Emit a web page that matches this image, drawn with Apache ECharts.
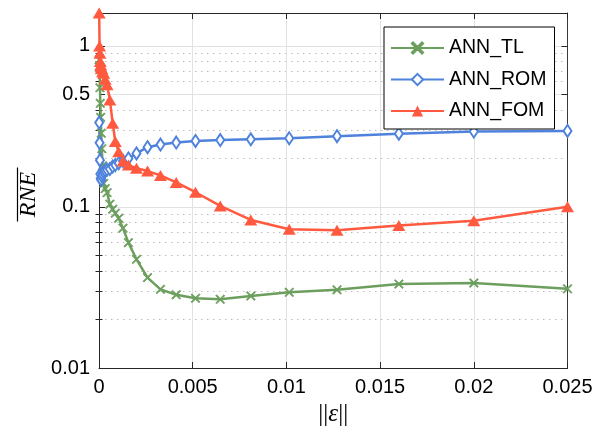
<!DOCTYPE html>
<html>
<head>
<meta charset="utf-8">
<title>RNE vs perturbation norm</title>
<script src="https://cdn.jsdelivr.net/npm/echarts@6.0.0/dist/echarts.min.js"></script>
<style>
  html, body { margin: 0; padding: 0; background: #fff; }
  #chart { width: 616px; height: 438px; }
</style>
</head>
<body>
<div id="chart"></div>
<script>
// perturbation norm ||eps|| (shared by all three curves)
const eps = [0.00001, 0.00003, 0.00005, 0.00007, 0.00009, 0.00012, 0.00015, 0.00019,
  0.00025, 0.00033, 0.00043, 0.00058, 0.00073, 0.00087, 0.00105, 0.00128, 0.00157,
  0.002, 0.00259, 0.00328, 0.00412, 0.00515, 0.00647, 0.0081, 0.01015, 0.0127,
  0.016, 0.02, 0.025];

// mean relative norm error for each model
const annTL = [0.82, 0.74, 0.55, 0.44, 0.36, 0.287, 0.23, 0.18, 0.14, 0.13, 0.1227,
  0.104, 0.0968, 0.0914, 0.0851, 0.0738, 0.060, 0.0473, 0.0364, 0.0308, 0.0285,
  0.0271, 0.0267, 0.028, 0.0295, 0.0306, 0.0332, 0.0337, 0.031];
const annROM = [0.334, 0.25, 0.195, 0.16, 0.15, 0.147, 0.155, 0.16, 0.165, 0.168,
  0.17, 0.172, 0.178, 0.182, 0.187, 0.193, 0.2, 0.215, 0.235, 0.244, 0.251, 0.257,
  0.26, 0.263, 0.267, 0.275, 0.285, 0.294, 0.2965];
const annFOM = [1.6, 1.0, 0.9, 0.8, 0.76, 0.727, 0.72, 0.69, 0.676, 0.62, 0.573,
  0.462, 0.331, 0.255, 0.22, 0.193, 0.182, 0.174, 0.167, 0.157, 0.142, 0.1234,
  0.1014, 0.083, 0.0727, 0.0717, 0.0766, 0.0822, 0.1004];

const seriesNames = ['ANN_TL', 'ANN_ROM', 'ANN_FOM'];

// y axis tick positions
const yMajorTicks = [0.01, 0.1, 0.5, 1];
const yLabelTicks = [0.01, 0.1, 0.5, 1];
const yMinorTicks = [0.02, 0.03, 0.04, 0.05, 0.06, 0.07, 0.08, 0.09,
  0.2, 0.3, 0.4, 0.6, 0.7, 0.8, 0.9];

const Y_MIN = 0.01, Y_MAX = 1.6;
const AXIS_COLOR = '#262626';
const GRID_COLOR = '#e2e2e2';
const MINOR_GRID_COLOR = '#bdbdbd';
const FONT = '"Liberation Sans", Arial, Helvetica, sans-serif';

const COLORS = ['#6c9f5e', '#4f82dc', '#ff5a3f'];
const CROSS = 'path://M1,0L5,4L9,0L10,1L6,5L10,9L9,10L5,6L1,10L0,9L4,5L0,1Z';

function pairs(ys) { return eps.map((x, i) => [x, ys[i]]); }

function yAxis(position, ticks, opts) {
  return Object.assign({
    type: 'log', logBase: 10, min: Y_MIN, max: Y_MAX, position: position,
    axisLine: { show: false },
    axisTick: { show: true, inside: true, length: 6, customValues: ticks,
      lineStyle: { color: AXIS_COLOR, width: 1 } },
    axisLabel: { show: false },
    splitLine: { show: false },
    minorTick: { show: false }
  }, opts);
}

const chart = echarts.init(document.getElementById('chart'), null, { renderer: 'canvas' });

chart.setOption({
  animation: false,
  backgroundColor: '#fff',
  color: COLORS,
  grid: { left: 99, right: 48.5, top: 13, bottom: 70, containLabel: false },
  legend: {
    orient: 'vertical',
    left: 384, top: 27,
    padding: [11, 8, 8, 6],
    itemWidth: 53, itemHeight: 14, itemGap: 11.5,
    backgroundColor: '#fff',
    borderColor: '#000', borderWidth: 1, borderRadius: 0,
    textStyle: { fontFamily: FONT, fontSize: 19.5, color: '#000' },
    data: seriesNames
  },
  xAxis: [{
    type: 'value', min: 0, max: 0.025, interval: 0.005, position: 'bottom',
    axisLine: { show: true, onZero: false, lineStyle: { color: AXIS_COLOR, width: 1 } },
    axisTick: { show: true, inside: true, length: 6, lineStyle: { color: AXIS_COLOR } },
    axisLabel: { color: '#000', fontFamily: FONT, fontSize: 20, margin: 9 },
    splitLine: { show: true, lineStyle: { color: GRID_COLOR, width: 1 } },
    name: '{b|||}{e|ε}{b|||}',
    nameLocation: 'middle', nameGap: 28,
    nameTextStyle: {
      rich: {
        b: { fontFamily: '"Liberation Serif", serif', fontSize: 25, color: '#000' },
        e: { fontFamily: '"Liberation Serif", serif', fontStyle: 'italic', fontSize: 25, color: '#000' }
      }
    }
  }, {
    type: 'value', min: 0, max: 0.025, interval: 0.005, position: 'top',
    axisLine: { show: true, onZero: false, lineStyle: { color: AXIS_COLOR, width: 1 } },
    axisTick: { show: true, inside: true, length: 6, lineStyle: { color: AXIS_COLOR } },
    axisLabel: { show: false },
    splitLine: { show: false }
  }],
  yAxis: [
    yAxis('left', yMajorTicks, {
      axisLine: { show: true, onZero: false, lineStyle: { color: AXIS_COLOR, width: 1 } },
      axisLabel: { show: true, customValues: yLabelTicks, color: '#000',
        fontFamily: FONT, fontSize: 20, margin: 9,
        formatter: v => String(+v.toPrecision(3)) },
      splitLine: { show: true, lineStyle: { color: GRID_COLOR, width: 1 } }
    }),
    yAxis('left', yMinorTicks, {
      axisTick: { show: true, inside: true, length: 3.5, customValues: yMinorTicks,
        lineStyle: { color: AXIS_COLOR, width: 1 } },
      splitLine: { show: true, lineStyle: { color: MINOR_GRID_COLOR, width: 1, type: [1.5, 4.5] } }
    }),
    yAxis('right', yMajorTicks, {
      axisLine: { show: true, onZero: false, lineStyle: { color: '#3a3a3a', width: 1 } }
    }),
    yAxis('right', yMinorTicks, {
      axisTick: { show: true, inside: true, length: 3.5, customValues: yMinorTicks,
        lineStyle: { color: AXIS_COLOR, width: 1 } }
    })
  ],
  series: [{
    name: seriesNames[0], type: 'line', data: pairs(annTL),
    symbol: CROSS, symbolSize: 9, showAllSymbol: true, clip: false,
    lineStyle: { width: 2.5, color: COLORS[0] },
    itemStyle: { color: COLORS[0], borderColor: COLORS[0], borderWidth: 0.8 }
  }, {
    name: seriesNames[1], type: 'line', data: pairs(annROM),
    symbol: 'emptyDiamond', symbolSize: [8, 12], showAllSymbol: true, clip: false,
    lineStyle: { width: 2.5, color: COLORS[1] },
    itemStyle: { color: COLORS[1], borderColor: COLORS[1], borderWidth: 1.6 }
  }, {
    name: seriesNames[2], type: 'line', data: pairs(annFOM),
    symbol: 'triangle', symbolSize: [13, 11], showAllSymbol: true, clip: false,
    lineStyle: { width: 2.5, color: COLORS[2] },
    itemStyle: { color: COLORS[2] }
  }],
  graphic: [{
    // y-axis title: RNE with an overline (rotated to read bottom-to-top)
    type: 'group', x: 29, y: 194.5, rotation: Math.PI / 2,
    children: [{
      type: 'text',
      style: { text: 'RNE', x: 0, y: 0, align: 'center', verticalAlign: 'middle',
        font: 'italic 24px "Liberation Serif", serif', fill: '#000' }
    }, {
      type: 'line',
      shape: { x1: -27, y1: -11.5, x2: 27, y2: -11.5 },
      style: { stroke: '#000', lineWidth: 1.2 }
    }]
  }]
});
</script>
</body>
</html>
